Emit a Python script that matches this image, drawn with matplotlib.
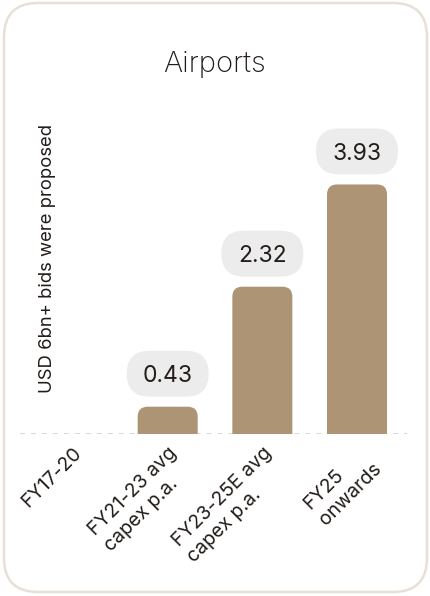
import matplotlib
matplotlib.use("Agg")
import matplotlib.pyplot as plt
from matplotlib.patches import FancyBboxPatch, PathPatch
from matplotlib.path import Path
from matplotlib.transforms import Affine2D

# ---- data ----
categories = ["FY17-20", "FY21-23 avg\ncapex p.a.", "FY23-25E avg\ncapex p.a.", "FY25\nonwards"]
values = [None, 0.43, 2.32, 3.93]
value_labels = ["", "0.43", "2.32", "3.93"]
note_text = "USD 6bn+ bids were proposed"
title = "Airports"

# ---- style ----
BAR = "#ad9474"
PILL = "#ececec"
TEXT = "#231d1a"
GRID = "#cdcdcd"
BORDER = "#e8e0d7"
plt.rcParams["font.family"] = ["Inter", "DejaVu Sans"]
plt.rcParams["lines.scale_dashes"] = False

W, H, DPI = 431, 596, 100
fig = plt.figure(figsize=(W / DPI, H / DPI), dpi=DPI)
fig.patch.set_facecolor("white")
pix = Affine2D().scale(1 / W, 1 / H) + fig.transFigure

# card
card = FancyBboxPatch((4, 4), W - 8, H - 7, boxstyle="round,pad=0,rounding_size=34",
                      transform=pix, facecolor="white", edgecolor=BORDER, linewidth=1.8,
                      zorder=-10)
fig.patches.append(card)

# axes
ax_l, ax_b, ax_w, ax_h = 20, 162, 387, 334
ax = fig.add_axes([ax_l / W, ax_b / H, ax_w / W, ax_h / H])
ax.set_xlim(-0.56, 3.528)
ax.set_ylim(0, 5.26)
ax.patch.set_visible(False)
for s in ax.spines.values():
    s.set_visible(False)
ax.set_yticks([])
dx = (3.528 + 0.56) / ax_w   # data x per px
dy = 5.26 / ax_h             # data y per px

ax.axhline(0, color=GRID, linewidth=1.1, linestyle=(0, (3.6, 4.3)), zorder=1)

xs = list(range(len(categories)))
bar_vals = [v if v is not None else 0 for v in values]
bars = ax.bar(xs, bar_vals, width=0.634, color=BAR, zorder=2)

r = 10
for b, v in zip(bars, values):
    b.set_visible(False)
    if v is None:
        continue
    x0 = b.get_x(); x1 = x0 + b.get_width(); h = b.get_height()
    rx, ry = r * dx, r * dy
    verts = [(x0, 0), (x0, h - ry), (x0, h), (x0 + rx, h), (x1 - rx, h), (x1, h), (x1, h - ry),
             (x1, 0), (x0, 0)]
    codes = [Path.MOVETO, Path.LINETO, Path.CURVE3, Path.CURVE3, Path.LINETO, Path.CURVE3,
             Path.CURVE3, Path.LINETO, Path.CLOSEPOLY]
    ax.add_patch(PathPatch(Path(verts, codes), facecolor=BAR, edgecolor="none", zorder=2))

# value pills
pw, ph, gap = 82, 46, 33
for x, v, lab in zip(xs, values, value_labels):
    if v is None:
        continue
    yc = v + gap * dy
    pill = FancyBboxPatch((x - pw / 2 * dx, yc - ph / 2 * dy), pw * dx, ph * dy,
                          boxstyle=f"round,pad=0,rounding_size={ph / 2 * dx}",
                          mutation_aspect=dy / dx, facecolor=PILL, edgecolor="none", zorder=3,
                          clip_on=False)
    ax.add_patch(pill)
    ax.text(x, yc, lab, ha="center", va="center_baseline", fontsize=16.5, color=TEXT, zorder=4)

# note in place of first bar
ax.annotate(note_text, xy=(xs[0], 0), xytext=(-26, 41), textcoords="offset pixels",
            rotation=90, ha="center", va="bottom", fontsize=13.3, color=TEXT)

ax.set_xticks(xs)
ax.set_xticklabels(categories, rotation=45, ha="right", va="top", rotation_mode="anchor",
                   multialignment="left", linespacing=1.3, fontsize=14, color=TEXT)
ax.tick_params(axis="x", length=0, pad=7)

fig.text(215 / W, 1 - 64 / H, title, ha="center", va="center", fontsize=21,
         fontweight="light", color=TEXT)

fig.savefig("out.png", dpi=DPI, facecolor="white")
